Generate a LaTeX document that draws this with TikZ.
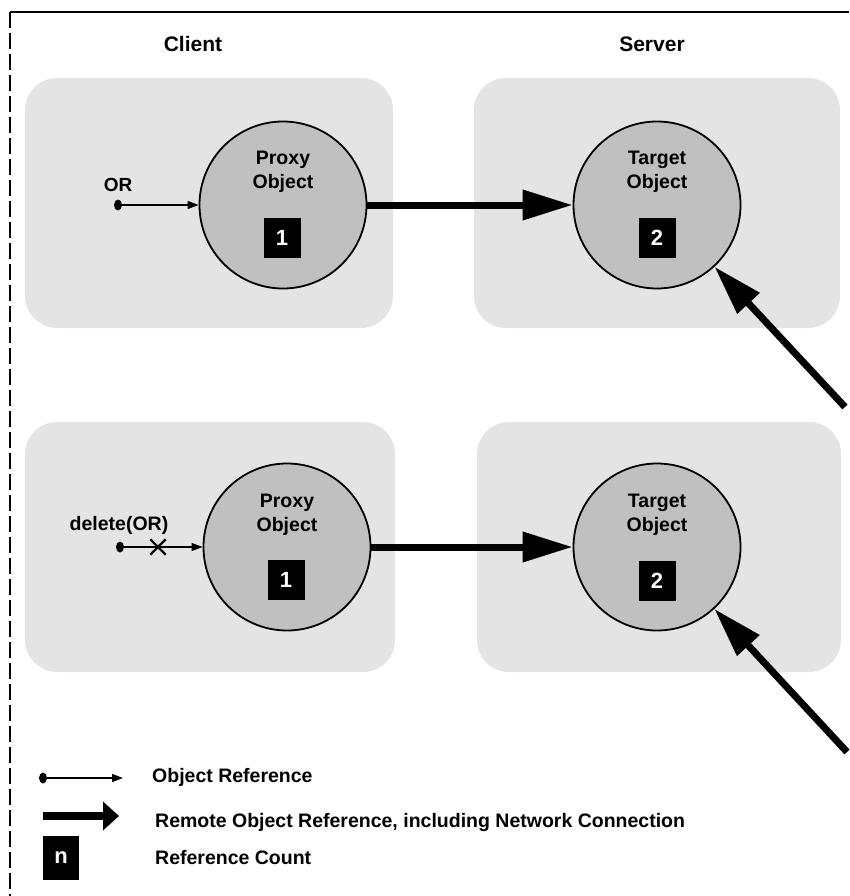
\documentclass[tikz,border=0pt]{standalone}
\usepackage{fontspec}
\setmainfont{Liberation Sans}
\usetikzlibrary{arrows.meta,shapes.geometric,shapes.misc}
\definecolor{boxgray}{RGB}{228,228,228}
\definecolor{circgray}{RGB}{192,192,192}
\begin{document}
\begin{tikzpicture}[x=1pt,y=-1pt,
  region/.style={fill=boxgray, rounded corners=32pt},
  obj/.style={circle, draw=black, line width=1.8pt, fill=circgray, minimum size=167pt, inner sep=0pt},
  lbl/.style={font=\fontsize{19.5}{23.5}\selectfont\bfseries, align=center, inner sep=0pt},
  head/.style={font=\fontsize{21}{24}\selectfont\bfseries, inner sep=0pt},
  legend/.style={font=\fontsize{19.5}{24}\selectfont\bfseries, inner sep=0pt, anchor=west},
  count/.style={fill=black, text=white, font=\fontsize{22}{22}\selectfont\bfseries, minimum width=37pt, minimum height=40pt, inner sep=0pt},
  remote/.style={line width=7pt, -{Triangle[length=50pt,width=29pt]}},
  local/.style={line width=1.2pt, -{Triangle[length=11pt,width=8pt]}},
  refdot/.style={ellipse, fill=black, minimum width=8pt, minimum height=11pt, inner sep=0pt},
  cancel/.style={cross out, draw=black, line width=2.4pt, minimum size=13pt, inner sep=0pt},
]
\useasboundingbox (0,0) rectangle (849,896);

% frame
\draw[line width=1.8pt] (10,12) -- (849,12);
\draw[line width=1.5pt, dash pattern=on 16pt off 5pt] (10,12) -- (10,896);

% column headings
\node[head] (client) at (193,44) {Client};
\node[head] (server) at (652,44) {Server};

% client and server regions
\fill[region] (25,78) rectangle (393,328);
\fill[region] (474,78) rectangle (840,328);
\fill[region] (25,422) rectangle (395,672);
\fill[region] (477,422) rectangle (841,672);

% upper row: reference held
\node[obj] (p1) at (283,205) {};
\node[lbl] (p1t) at (283,172) {Proxy\\Object};
\node[count] (p1c) at (282,238) {1};
\node[obj] (t1) at (657,205) {};
\node[lbl] (t1t) at (657,172) {Target\\Object};
\node[count] (t1c) at (657,238) {2};

\node[refdot] (or1) at (118,205) {};
\node[lbl, font=\fontsize{19}{22}\selectfont\bfseries] (or1l) at (118,185) {OR};
\draw[local] (or1) -- (p1);
\draw[remote] (p1) -- (t1);
\coordinate (e1) at (845,407);
\draw[remote] (e1) -- (t1);

% lower row: reference deleted
\node[obj] (p2) at (287,547) {};
\node[lbl] (p2t) at (287,515) {Proxy\\Object};
\node[count] (p2c) at (286,580) {1};
\node[obj] (t2) at (657,547) {};
\node[lbl] (t2t) at (657,515) {Target\\Object};
\node[count] (t2c) at (657,581) {2};

\node[refdot] (or2) at (120,547) {};
\node[lbl] (or2l) at (119,525) {delete(OR)};
\node[cancel] (x2) at (158,547) {};
\draw[local] (or2) -- (p2);
\draw[remote] (p2) -- (t2);
\coordinate (e2) at (847,752);
\draw[remote] (e2) -- (t2);

% legend
\node[refdot] (lg1) at (43,778) {};
\coordinate (lg1e) at (123,778);
\draw[local] (lg1) -- (lg1e);
\node[legend] (lg1t) at (152,777) {Object Reference};

\coordinate (lg2s) at (43,816);
\coordinate (lg2e) at (119,816);
\draw[line width=8pt, -{Triangle[length=16pt,width=28pt]}] (lg2s) -- (lg2e);
\node[legend] (lg2t) at (155,822) {Remote Object Reference, including Network Connection};

\node[count, minimum width=36pt, minimum height=44pt] (lg3) at (61,858) {n};
\node[legend] (lg3t) at (155,858) {Reference Count};
\end{tikzpicture}
\end{document}
